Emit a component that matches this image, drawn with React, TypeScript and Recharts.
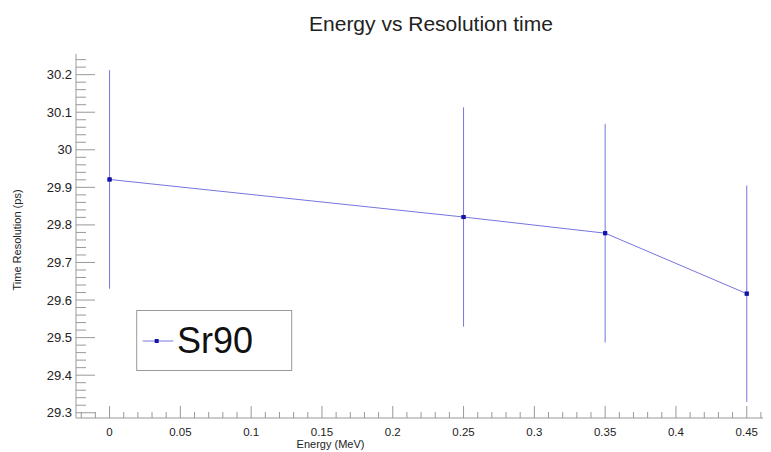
import React from 'react';
import { ComposedChart, Line, Scatter, XAxis, YAxis, ErrorBar } from 'recharts';

const energy = [0, 0.25, 0.35, 0.45];
const resolution = [29.921, 29.821, 29.778, 29.617];
const resolutionErr = [0.291, 0.292, 0.291, 0.288];

const xMajorTicks = [0, 0.05, 0.1, 0.15, 0.2, 0.25, 0.3, 0.35, 0.4, 0.45];
const yMajorTicks = [29.3, 29.4, 29.5, 29.6, 29.7, 29.8, 29.9, 30, 30.1, 30.2];

const xDomain: [number, number] = [-0.0237, 0.4643];
const yDomain: [number, number] = [29.286, 30.255];

const seriesName = 'Sr90';
const title = 'Energy vs Resolution time';
const xTitle = 'Energy (MeV)';
const yTitle = 'Time Resolution (ps)';

const data = energy.map((x, i) => ({ x, y: resolution[i], err: resolutionErr[i] }));

// minor tick positions (axis decoration only)
const xTicks: number[] = [];
for (let i = -2; i <= 46; i++) xTicks.push(Number((i * 0.01).toFixed(2)));
const yTicks: number[] = [];
for (let i = 0; i <= 47; i++) yTicks.push(Number((29.3 + i * 0.02).toFixed(2)));

const FONT = '"Liberation Sans", Arial, Helvetica, sans-serif';
const AXIS = '#999999';
const SERIES = '#7676e0';
const MARKER = '#1414a8';

const isMajor = (arr: number[], v: number) => arr.some((m) => Math.abs(m - v) < 1e-6);

const XTick = (props: any) => {
  const { x, y, payload } = props;
  const v = payload.value as number;
  const major = isMajor(xMajorTicks, v);
  return (
    <g>
      <line x1={x} x2={x} y1={y} y2={y - (major ? 12 : 6)} stroke={AXIS} strokeWidth={1} />
      {major && (
        <text x={x} y={y + 17.7} textAnchor="middle" fontSize={11.5} fontFamily={FONT} fill="#222">
          {String(Number(v.toFixed(2)))}
        </text>
      )}
    </g>
  );
};

const YTick = (props: any) => {
  const { x, y, payload } = props;
  const v = payload.value as number;
  const major = isMajor(yMajorTicks, v);
  return (
    <g>
      <line x1={x} x2={x + (major ? 19 : 10)} y1={y} y2={y} stroke={AXIS} strokeWidth={1} />
      {major && (
        <text x={x - 4} y={y} textAnchor="end" dominantBaseline="central" fontSize={13} fontFamily={FONT} fill="#222">
          {String(Number(v.toFixed(1)))}
        </text>
      )}
    </g>
  );
};

const SquareDot = (p: any) => (
  <rect x={p.cx - 2} y={p.cy - 2} width={4} height={4} fill={MARKER} />
);

export default function App() {
  return (
    <div style={{ position: 'relative', width: 763, height: 444 }}>
      <ComposedChart
        width={763}
        height={444}
        data={data}
        margin={{ top: 46, right: 4, bottom: 4, left: 8 }}
      >
        <XAxis
          type="number"
          dataKey="x"
          domain={xDomain}
          allowDataOverflow
          ticks={xTicks}
          interval={0}
          tickSize={0}
          tickMargin={0}
          tickLine={false}
          axisLine={{ stroke: AXIS }}
          tick={XTick}
          height={30}
        />
        <XAxis
          xAxisId="top"
          orientation="top"
          type="number"
          domain={xDomain}
          allowDataOverflow
          tick={false}
          tickLine={false}
          axisLine={{ stroke: AXIS, strokeWidth: 1.5 }}
          height={0}
        />
        <YAxis
          type="number"
          domain={yDomain}
          allowDataOverflow
          ticks={yTicks}
          interval={0}
          tickSize={0}
          tickMargin={0}
          tickLine={false}
          axisLine={{ stroke: AXIS }}
          tick={YTick}
          width={60}
        />
        <YAxis
          yAxisId="right"
          orientation="right"
          type="number"
          domain={yDomain}
          allowDataOverflow
          tick={false}
          tickLine={false}
          axisLine={{ stroke: AXIS }}
          width={0}
        />
        <Scatter
          dataKey="y"
          name={seriesName}
          fill={MARKER}
          shape={SquareDot}
          isAnimationActive={false}
        >
          <ErrorBar dataKey="err" width={0} stroke={SERIES} strokeWidth={1} direction="y" />
        </Scatter>
        <Line
          type="linear"
          dataKey="y"
          stroke={SERIES}
          strokeWidth={1}
          dot={SquareDot}
          activeDot={false}
          isAnimationActive={false}
        />
      </ComposedChart>
      <svg
        width={763}
        height={444}
        style={{ position: 'absolute', left: 0, top: 0, pointerEvents: 'none' }}
      >
        <text x={423} y={22.7} textAnchor="middle" fontSize={21} fontFamily={FONT} fill="#222">
          {title}
        </text>
        <text x={322.5} y={440} textAnchor="middle" fontSize={11} fontFamily={FONT} fill="#222">
          {xTitle}
        </text>
        <text
          x={12.7}
          y={232}
          textAnchor="middle"
          fontSize={11}
          fontFamily={FONT}
          fill="#222"
          transform="rotate(-90 12.7 232)"
        >
          {yTitle}
        </text>
        <rect x={128.7} y={302.5} width={155} height={60} fill="#fff" stroke={AXIS} strokeWidth={1} />
        <line x1={134.7} x2={165.3} y1={333} y2={333} stroke={SERIES} strokeWidth={1} />
        <rect x={146.7} y={331} width={4} height={4} fill={MARKER} />
        <text x={169} y={345.3} fontSize={36} fontFamily={FONT} fill="#111">
          {seriesName}
        </text>
      </svg>
    </div>
  );
}
